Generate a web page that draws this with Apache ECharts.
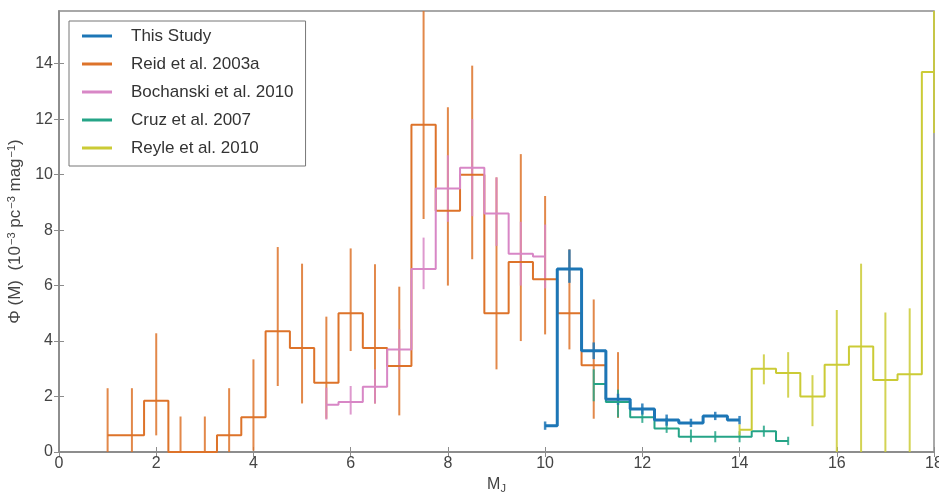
<!DOCTYPE html>
<html>
<head>
<meta charset="utf-8">
<script src="https://cdn.jsdelivr.net/npm/echarts@6/dist/echarts.min.js"></script>
<style>
  html, body { margin: 0; padding: 0; background: #ffffff; }
  #chart { width: 939px; height: 492px; }
</style>
</head>
<body>
<div id="chart"></div>
<script>
// Luminosity function in M_J, 0.5 mag bins
const xTicks = [0, 2, 4, 6, 8, 10, 12, 14, 16, 18];
const yTicks = [0, 2, 4, 6, 8, 10, 12, 14];

// This Study
const studyMag  = [10.0, 10.5, 11.0, 11.5, 12.0, 12.5, 13.0, 13.5, 14.0];
const studyPhi  = [0.95, 6.6, 3.65, 1.9, 1.55, 1.15, 1.05, 1.3, 1.15];
const studyLow  = [0.8, 6.1, 3.35, 1.7, 1.35, 0.95, 0.9, 1.15, 1.0];
const studyHigh = [1.1, 7.3, 3.95, 2.1, 1.75, 1.35, 1.2, 1.45, 1.3];

// Reid et al. 2003a
const reidMag  = [1.0, 1.5, 2.0, 2.5, 3.0, 3.5, 4.0, 4.5, 5.0, 5.5, 6.0, 6.5, 7.0, 7.5, 8.0, 8.5, 9.0, 9.5, 10.0, 10.5, 11.0, 11.5];
const reidPhi  = [0.6, 0.6, 1.85, 0, 0, 0.6, 1.25, 4.35, 3.75, 2.5, 5.0, 3.75, 3.1, 11.8, 8.7, 10.0, 5.0, 6.85, 6.23, 5.0, 3.13, 1.9];
const reidLow  = [0, 0, 0.6, 0, 0, 0, 0.05, 2.38, 1.75, 1.2, 3.64, 1.75, 1.32, 8.4, 6.0, 6.95, 2.98, 4.0, 4.24, 3.7, 1.2, 1.23];
const reidHigh = [2.3, 2.3, 4.28, 1.28, 1.28, 2.3, 3.34, 7.39, 6.79, 4.88, 7.34, 6.77, 5.96, 16.5, 12.43, 13.93, 9.9, 10.74, 9.23, 7.31, 5.5, 3.6];

// Bochanski et al. 2010
const bochMag  = [5.5, 6.0, 6.5, 7.0, 7.5, 8.0, 8.5, 9.0, 9.5, 10.0];
const bochPhi  = [1.7, 1.8, 2.35, 3.7, 6.6, 9.5, 10.25, 8.6, 7.15, 7.05];
const bochLow  = [1.17, 1.35, 1.75, 2.98, 5.87, 8.3, 8.5, 7.43, 6.0, 5.9];
const bochHigh = [2.32, 2.38, 2.98, 4.42, 7.73, 10.7, 12.0, 9.9, 8.3, 8.2];

// Cruz et al. 2007
const cruzMag  = [11.0, 11.5, 12.0, 12.5, 13.0, 13.5, 14.0, 14.5, 15.0];
const cruzPhi  = [2.45, 1.8, 1.25, 0.85, 0.55, 0.55, 0.55, 0.75, 0.4];
const cruzLow  = [1.83, 1.25, 1.05, 0.69, 0.35, 0.35, 0.35, 0.55, 0.25];
const cruzHigh = [2.98, 2.25, 1.6, 1.23, 0.81, 0.75, 0.75, 0.95, 0.55];

// Reyle et al. 2010
const reyleMag  = [14.0, 14.5, 15.0, 15.5, 16.0, 16.5, 17.0, 17.5, 18.0];
const reylePhi  = [0.8, 3.0, 2.85, 2.0, 3.15, 3.8, 2.6, 2.8, 13.7];
const reyleLow  = [0.6, 2.44, 1.96, 0.93, 0, 0, 0, 0, 11.5];
const reyleHigh = [1.0, 3.52, 3.6, 2.77, 5.12, 6.79, 5.03, 5.18, 16.5];

const YMAX = 15.9;
const XMAX = 18;

const datasets = [
  { name: 'Reid et al. 2003a',     color: '#dd732a', width: 2, mag: reidMag,  phi: reidPhi,  lo: reidLow,  hi: reidHigh },
  { name: 'Bochanski et al. 2010', color: '#d887c6', width: 2, mag: bochMag,  phi: bochPhi,  lo: bochLow,  hi: bochHigh },
  { name: 'Cruz et al. 2007',      color: '#25a487', width: 2, mag: cruzMag,  phi: cruzPhi,  lo: cruzLow,  hi: cruzHigh },
  { name: 'Reyle et al. 2010',     color: '#cbcb36', width: 2, mag: reyleMag, phi: reylePhi, lo: reyleLow, hi: reyleHigh },
  { name: 'This Study',            color: '#1c76b6', width: 3, mag: studyMag, phi: studyPhi, lo: studyLow, hi: studyHigh }
];

const series = [];
datasets.forEach(function (d) {
  // vertical error bars
  series.push({
    type: 'custom',
    name: d.name + ' errors',
    silent: true,
    data: d.mag.map(function (m, i) { return [m, d.lo[i], d.hi[i]]; }),
    encode: { x: 0, y: [1, 2] },
    renderItem: function (params, api) {
      const x = api.value(0);
      const lo = Math.max(0, api.value(1));
      const hi = Math.min(YMAX, api.value(2));
      const p0 = api.coord([x, lo]);
      const p1 = api.coord([x, hi]);
      return {
        type: 'line',
        shape: { x1: p0[0], y1: p0[1], x2: p1[0], y2: p1[1] },
        style: { stroke: d.color, lineWidth: d.width === 3 ? 2.5 : 2, opacity: 0.85 }
      };
    }
  });
  // step histogram
  series.push({
    type: 'line',
    name: d.name,
    step: 'middle',
    symbol: 'none',
    clip: true,
    color: d.color,
    lineStyle: { color: d.color, width: d.width },
    data: d.mag.map(function (m, i) { return [m, d.phi[i]]; })
  });
});

const chart = echarts.init(document.getElementById('chart'), null, { renderer: 'canvas' });
const fontFam = 'Liberation Sans, Arial, sans-serif';
const axisGray = '#8c8c8c';
const textGray = '#444444';

function frameAxis(extra) {
  return Object.assign({
    type: 'value',
    axisLine: { show: true, lineStyle: { color: axisGray, width: 1.5 } },
    splitLine: { show: false }
  }, extra);
}

chart.setOption({
  animation: false,
  backgroundColor: '#ffffff',
  grid: {
    left: 59, right: 5, top: 11, bottom: 40,
    outerBoundsMode: 'none', containLabel: false,
    show: true, borderColor: axisGray, borderWidth: 1.5, backgroundColor: 'transparent'
  },
  legend: {
    data: ['This Study', 'Reid et al. 2003a', 'Bochanski et al. 2010', 'Cruz et al. 2007', 'Reyle et al. 2010'],
    orient: 'vertical',
    left: 69,
    top: 21,
    icon: 'rect',
    itemWidth: 30,
    itemHeight: 3,
    itemGap: 10,
    padding: [6, 12, 9, 13],
    borderColor: '#777777',
    borderWidth: 1,
    backgroundColor: '#ffffff',
    textStyle: { fontFamily: fontFam, fontSize: 17, color: '#333333', lineHeight: 18, padding: [0, 0, 0, 14] }
  },
  xAxis: [
    frameAxis({
      min: 0, max: XMAX, interval: 2,
      name: 'M{sub|J}', nameLocation: 'middle', nameGap: 23,
      nameTextStyle: { fontFamily: fontFam, fontSize: 16, color: textGray,
        rich: { sub: { fontFamily: fontFam, fontSize: 11, color: textGray, padding: [8, 0, 0, 0] } } },
      axisTick: { show: true, inside: true, length: 5, customValues: xTicks, lineStyle: { color: axisGray } },
      axisLabel: { fontFamily: fontFam, fontSize: 16, color: textGray, margin: 4, customValues: xTicks }
    }),
    frameAxis({
      min: 0, max: XMAX, interval: 2, position: 'top',
      axisTick: { show: true, inside: true, length: 5, customValues: xTicks, lineStyle: { color: axisGray } },
      axisLabel: { show: false }
    })
  ],
  yAxis: [
    frameAxis({
      min: 0, max: YMAX, interval: 2,
      name: '{a|Φ (M)  (10}{s|−3}{a| pc}{s|−3}{a| mag}{s|−1}{a|)}',
      nameLocation: 'middle', nameGap: 31, nameRotate: 90,
      nameTextStyle: {
        fontFamily: fontFam, fontSize: 17, color: textGray,
        rich: {
          a: { fontFamily: fontFam, fontSize: 17, color: textGray },
          s: { fontFamily: fontFam, fontSize: 11, color: textGray, padding: [0, 0, 8, 1] }
        }
      },
      axisTick: { show: true, inside: true, length: 5, customValues: yTicks, lineStyle: { color: axisGray } },
      axisLabel: { fontFamily: fontFam, fontSize: 16, color: textGray, margin: 6, customValues: yTicks }
    }),
    frameAxis({
      min: 0, max: YMAX, interval: 2, position: 'right',
      axisTick: { show: true, inside: true, length: 5, customValues: yTicks, lineStyle: { color: axisGray } },
      axisLabel: { show: false }
    })
  ],
  series: series
});
</script>
</body>
</html>
